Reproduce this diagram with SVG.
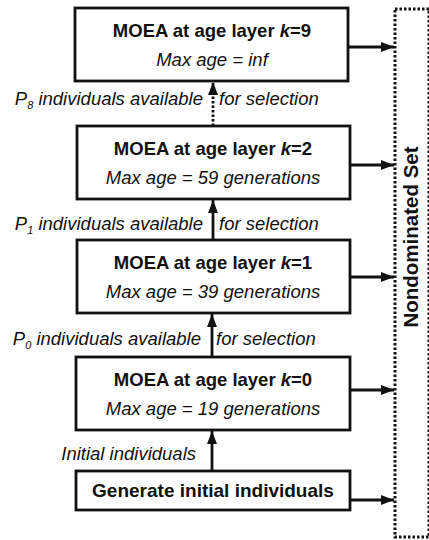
<svg xmlns="http://www.w3.org/2000/svg" width="429" height="540" viewBox="0 0 429 540">
<style>
.box{fill:#fff;stroke:#111;stroke-width:2.8}
.title{font-family:"Liberation Sans",Arial,sans-serif;font-weight:bold;font-size:18.5px;fill:#111;text-anchor:middle}
.sub{font-family:"Liberation Sans",Arial,sans-serif;font-style:italic;font-size:18.5px;fill:#111;text-anchor:middle}
.lbl{font-family:"Liberation Sans",Arial,sans-serif;font-style:italic;font-size:18.5px;fill:#111}
.conn{stroke:#111;stroke-width:2.8;fill:none}
.dot{stroke-dasharray:2.5 2}
</style>
<defs>
<marker id="ah" markerUnits="userSpaceOnUse" markerWidth="14" markerHeight="14" viewBox="0 0 14 14" refX="13" refY="7" orient="auto">
<path d="M0,2 L13,7 L0,12 Z" fill="#111"/>
</marker>
</defs>
<rect x="395" y="9" width="34" height="528" fill="none" stroke="#111" stroke-width="3" stroke-dasharray="2.5 2"/>
<text x="413" y="237" transform="rotate(-90 413 237)" class="title" dominant-baseline="middle" style="font-size:20.5px">Nondominated Set</text>
<g id="layer9">
<rect class="box" x="75" y="8" width="273" height="73"/>
<text class="title" x="212" y="37">MOEA at age layer <tspan font-style="italic">k</tspan>=9</text>
<text class="sub" x="212" y="66">Max age = inf</text>
</g>
<g id="layer2">
<rect class="box" x="77" y="126" width="273" height="73"/>
<text class="title" x="213" y="155">MOEA at age layer <tspan font-style="italic">k</tspan>=2</text>
<text class="sub" x="213" y="184">Max age = 59 generations</text>
</g>
<g id="layer1">
<rect class="box" x="77" y="240" width="273" height="73"/>
<text class="title" x="213" y="269">MOEA at age layer <tspan font-style="italic">k</tspan>=1</text>
<text class="sub" x="213" y="298">Max age = 39 generations</text>
</g>
<g id="layer0">
<rect class="box" x="76" y="357" width="274" height="73"/>
<text class="title" x="213" y="386">MOEA at age layer <tspan font-style="italic">k</tspan>=0</text>
<text class="sub" x="213" y="415">Max age = 19 generations</text>
</g>
<g id="init">
<rect class="box" x="76" y="471" width="274" height="39"/>
<text class="title" x="213" y="497" style="font-size:19px">Generate initial individuals</text>
</g>
<g id="connectors">
<line class="conn dot" x1="213" y1="126" x2="213" y2="82" marker-end="url(#ah)"/>
<line class="conn" x1="213" y1="240" x2="213" y2="200" marker-end="url(#ah)"/>
<line class="conn" x1="212" y1="357" x2="212" y2="314" marker-end="url(#ah)"/>
<line class="conn" x1="212" y1="471" x2="212" y2="431" marker-end="url(#ah)"/>
<line class="conn" x1="348" y1="47" x2="394" y2="47" marker-end="url(#ah)"/>
<line class="conn" x1="350" y1="165" x2="394" y2="165" marker-end="url(#ah)"/>
<line class="conn" x1="350" y1="277" x2="394" y2="277" marker-end="url(#ah)"/>
<line class="conn" x1="350" y1="390" x2="394" y2="390" marker-end="url(#ah)"/>
<line class="conn" x1="350" y1="500" x2="394" y2="500" marker-end="url(#ah)"/>
<text class="lbl" x="203" y="105" text-anchor="end">P<tspan font-size="11" dy="4">8</tspan><tspan dy="-4"> individuals available</tspan></text>
<text class="lbl" x="219" y="105">for selection</text>
<text class="lbl" x="203" y="230" text-anchor="end">P<tspan font-size="11" dy="4">1</tspan><tspan dy="-4"> individuals available</tspan></text>
<text class="lbl" x="219" y="230">for selection</text>
<text class="lbl" x="201" y="345" text-anchor="end">P<tspan font-size="11" dy="4">0</tspan><tspan dy="-4"> individuals available</tspan></text>
<text class="lbl" x="216" y="345">for selection</text>
<text class="lbl" x="196" y="460" text-anchor="end">Initial individuals</text>
</g>
</svg>
